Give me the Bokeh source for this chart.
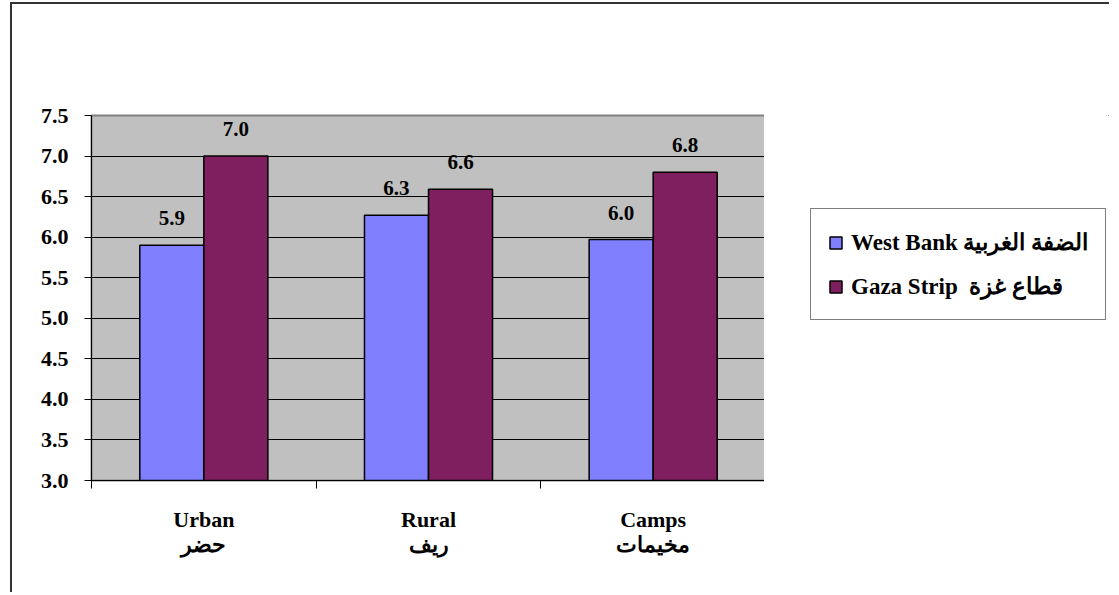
from bokeh.plotting import figure
from bokeh.models import (ColumnDataSource, FixedTicker, Legend, LegendItem, LabelSet,
                          Range1d, PrintfTickFormatter)
from bokeh.layouts import row
from bokeh.embed import file_html
from bokeh.resources import INLINE

categories = ["Urban\nحضر", "Rural\nريف", "Camps\nمخيمات"]
west_bank = [5.9, 6.27, 5.97]
gaza_strip = [7.0, 6.59, 6.8]
series_names = ["West Bank الضفة الغربية", "Gaza Strip  قطاع غزة"]
series_colors = ["#8080FF", "#7F1F5F"]
y_ticks = [3.0, 3.5, 4.0, 4.5, 5.0, 5.5, 6.0, 6.5, 7.0, 7.5]

centers = [i + 0.5 for i in range(len(categories))]
bw = 0.285
wb_src = ColumnDataSource(dict(x=[c - bw / 2 for c in centers], top=west_bank,
                               lab=[f"{v:.1f}" for v in west_bank]))
gz_src = ColumnDataSource(dict(x=[c + bw / 2 for c in centers], top=gaza_strip,
                               lab=[f"{v:.1f}" for v in gaza_strip]))

p = figure(width=754, height=590, output_backend="svg", toolbar_location=None,
           x_range=Range1d(0, len(categories)), y_range=Range1d(3.0, 7.5),
           min_border_left=79, min_border_top=111, min_border_right=1, min_border_bottom=114,
           background_fill_color="#C0C0C0", border_fill_color="white",
           outline_line_color="#808080", outline_line_width=2,
           styles={"border-left": "2px solid #333333", "border-top": "2px solid #333333"})

r1 = p.vbar(x="x", top="top", bottom=3.0, width=bw, source=wb_src,
            fill_color=series_colors[0], line_color="black", line_width=1.5)
r2 = p.vbar(x="x", top="top", bottom=3.0, width=bw, source=gz_src,
            fill_color=series_colors[1], line_color="black", line_width=1.5)

for src in (wb_src, gz_src):
    p.add_layout(LabelSet(x="x", y="top", text="lab", source=src, text_align="center",
                          text_baseline="bottom", y_offset=20,
                          text_font="Liberation Sans", text_font_style="bold",
                          text_font_size="21px", text_color="black"))

# grid
p.xgrid.grid_line_color = None
p.ygrid.grid_line_color = "black"
p.ygrid.grid_line_width = 1
p.ygrid.ticker = FixedTicker(ticks=y_ticks)

# y axis
p.yaxis.ticker = FixedTicker(ticks=y_ticks)
p.yaxis.formatter = PrintfTickFormatter(format="%.1f")
p.yaxis.major_label_text_font = "Liberation Serif"
p.yaxis.major_label_text_font_style = "bold"
p.yaxis.major_label_text_font_size = "22px"
p.yaxis.major_label_text_color = "black"
p.yaxis.axis_line_color = "black"
p.yaxis.major_tick_line_color = "black"
p.yaxis.major_tick_out = 7
p.yaxis.major_tick_in = 0
p.yaxis.minor_tick_line_color = None
p.yaxis.major_label_standoff = 16

# x axis
p.xaxis.ticker = FixedTicker(ticks=centers, minor_ticks=list(range(len(categories) + 1)))
p.xaxis.major_label_overrides = {c: lab for c, lab in zip(centers, categories)}
p.xaxis.major_tick_line_color = None
p.xaxis.minor_tick_line_color = "black"
p.xaxis.minor_tick_in = 0
p.xaxis.minor_tick_out = 8
p.xaxis.axis_line_color = "black"
p.xaxis.major_label_standoff = 18
p.xaxis.major_label_text_font = "Liberation Serif"
p.xaxis.major_label_text_font_style = "bold"
p.xaxis.major_label_text_font_size = "22px"
p.xaxis.major_label_text_color = "black"
p.xaxis.major_label_text_line_height = 1.0

# legend panel (separate figure so the legend can sit outside the plot frame);
# its bars use the same data but lie far outside its visible ranges
q = figure(width=345, height=590, output_backend="svg", toolbar_location=None,
           x_range=Range1d(-20, -19), y_range=Range1d(-20, -19),
           min_border=0, outline_line_color=None,
           background_fill_color="white", border_fill_color="white",
           styles={"border-top": "2px solid #333333"})
q.axis.visible = False
q.grid.visible = False
lr1 = q.vbar(x="x", top="top", bottom=3.0, width=bw, source=wb_src,
             fill_color=series_colors[0], line_color="black", line_width=1.5)
lr2 = q.vbar(x="x", top="top", bottom=3.0, width=bw, source=gz_src,
             fill_color=series_colors[1], line_color="black", line_width=1.5)

legend = Legend(items=[LegendItem(label=series_names[0], renderers=[lr1]),
                       LegendItem(label=series_names[1], renderers=[lr2])],
                location=(46, 160), orientation="vertical",
                label_text_font="Liberation Serif", label_text_font_style="bold",
                label_text_font_size="23px", label_text_color="black",
                glyph_width=15, glyph_height=15, label_height=32, spacing=12,
                padding=17, label_standoff=8, margin=0,
                border_line_color="black", border_line_width=1,
                background_fill_color="white", background_fill_alpha=1)
q.add_layout(legend, "center")

layout = row(p, q, spacing=0, styles={"margin-left": "10px", "margin-top": "2px"})
open("out.html", "w").write(file_html(layout, INLINE))
